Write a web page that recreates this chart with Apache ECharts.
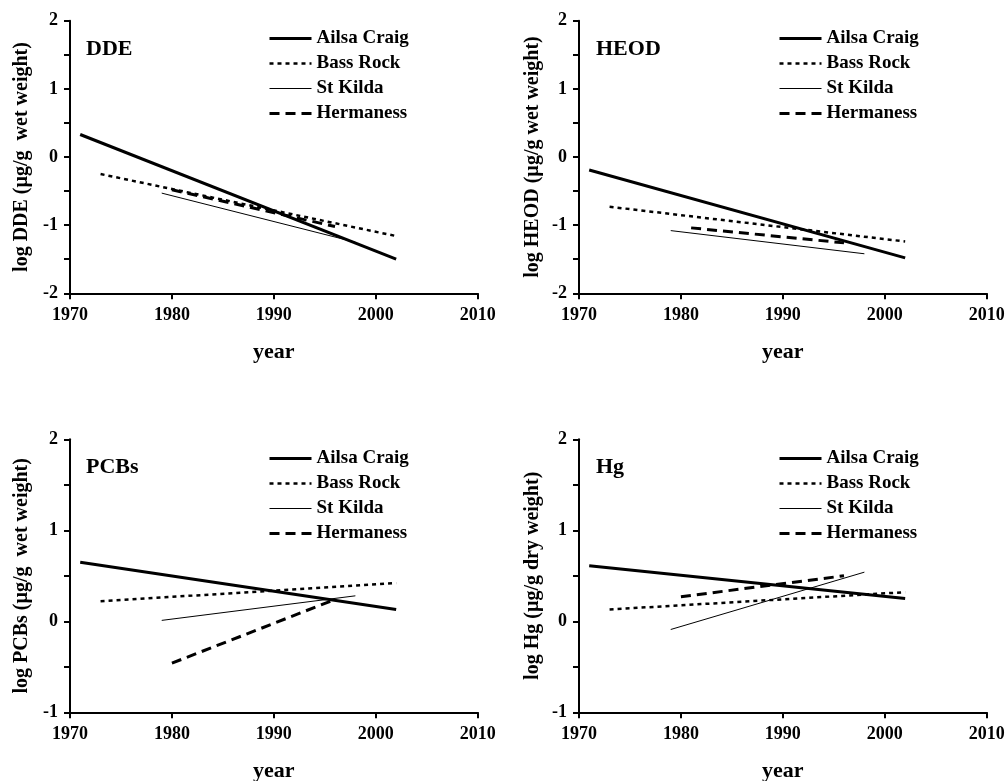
<!DOCTYPE html>
<html>
<head>
<meta charset="utf-8">
<script src="https://cdn.jsdelivr.net/npm/echarts@6/dist/echarts.min.js"></script>
<style>
html,body{margin:0;padding:0;background:#fff;}
#chart{width:1008px;height:781px;}
</style>
</head>
<body>
<div id="chart"></div>
<script>
// ---- data ----
const sites = ['Ailsa Craig', 'Bass Rock', 'St Kilda', 'Hermaness'];
const panelTitles = ['DDE', 'HEOD', 'PCBs', 'Hg'];
const yTitles = ['log DDE (µg/g  wet weight)', 'log HEOD (µg/g wet weight)', 'log PCBs (µg/g  wet weight)', 'log Hg (µg/g dry weight)'];
const xTitle = 'year';
const xTicks = [1970, 1980, 1990, 2000, 2010];
const yRangeTop = [-2, 2];
const yRangeBottom = [-1, 2];

// start / end year of each site's regression line
const siteYears = [[1971, 2002], [1973, 2002], [1979, 1998], [1980, 1996]];
const heodYears = [[1971, 2002], [1973, 2002], [1979, 1998], [1981, 1996]];

// fitted log values at start / end year, per site
const ddeValues  = [[0.33, -1.50], [-0.25, -1.16], [-0.53, -1.25], [-0.48, -1.02]];
const heodValues = [[-0.19, -1.48], [-0.73, -1.24], [-1.08, -1.42], [-1.04, -1.26]];
const pcbValues  = [[0.65, 0.13], [0.22, 0.42], [0.01, 0.28], [-0.46, 0.24]];
const hgValues   = [[0.61, 0.25], [0.13, 0.32], [-0.09, 0.54], [0.27, 0.50]];

// ---- build ----
const FONT = '"Liberation Serif", "Times New Roman", serif';
const panelValues = [ddeValues, heodValues, pcbValues, hgValues];
const panelYears = [siteYears, heodYears, siteYears, siteYears];
const lineStyles = [
  {width: 3, type: 'solid'},
  {width: 2.5, type: [4, 4]},
  {width: 1, type: 'solid'},
  {width: 3, type: [10, 6]}
];
const grids = [
  {left: 70, top: 20.7, width: 407.7, height: 272.6, outerBoundsMode: 'none'},
  {left: 579, top: 20.7, width: 407.7, height: 272.6, outerBoundsMode: 'none'},
  {left: 70, top: 439.3, width: 407.7, height: 273, outerBoundsMode: 'none'},
  {left: 579, top: 439.3, width: 407.7, height: 273, outerBoundsMode: 'none'}
];
const legendPos = [
  {left: 268, top: 29},
  {left: 778, top: 29},
  {left: 268, top: 449},
  {left: 778, top: 449}
];
const titlePos = [
  {left: 86, top: 38},
  {left: 596, top: 38},
  {left: 86, top: 456},
  {left: 596, top: 456}
];

const xAxes = [], yAxes = [], series = [], legends = [], titles = [];
for (let p = 0; p < 4; p++) {
  xAxes.push({
    type: 'value', gridIndex: p,
    min: xTicks[0], max: xTicks[xTicks.length - 1], interval: 10,
    name: xTitle, nameLocation: 'middle', nameGap: 48,
    nameTextStyle: {fontFamily: FONT, fontWeight: 'bold', fontSize: 22, color: '#000'},
    axisLine: {onZero: false, lineStyle: {color: '#000', width: 2}},
    axisTick: {show: true, length: 6, lineStyle: {color: '#000', width: 2}},
    axisLabel: {fontFamily: FONT, fontWeight: 'bold', fontSize: 18, color: '#000', margin: 13,
      formatter: v => String(v)},
    splitLine: {show: false}
  });
  const yr = p < 2 ? yRangeTop : yRangeBottom;
  yAxes.push({
    type: 'value', gridIndex: p,
    min: yr[0], max: yr[1], interval: 1,
    name: yTitles[p], nameLocation: 'middle', nameGap: p % 2 === 0 ? 38 : 36,
    nameTextStyle: {fontFamily: FONT, fontWeight: 'bold', fontSize: 20, color: '#000'},
    axisLine: {show: true, onZero: false, lineStyle: {color: '#000', width: 2}},
    axisTick: {show: true, length: 6, lineStyle: {color: '#000', width: 2}},
    minorTick: {show: true, splitNumber: 2, length: 6, lineStyle: {color: '#000', width: 2}},
    axisLabel: {fontFamily: FONT, fontWeight: 'bold', fontSize: 18, color: '#000', margin: 12,
      formatter: v => String(v)},
    splitLine: {show: false},
    minorSplitLine: {show: false}
  });
  for (let s = 0; s < sites.length; s++) {
    const yrs = panelYears[p][s];
    const vals = panelValues[p][s];
    series.push({
      type: 'line', name: sites[s],
      xAxisIndex: p, yAxisIndex: p,
      data: [[yrs[0], vals[0]], [yrs[1], vals[1]]],
      showSymbol: false, symbol: 'none',
      lineStyle: Object.assign({color: '#000'}, lineStyles[s]),
      itemStyle: {color: '#000'},
      animation: false, silent: true
    });
  }
  legends.push({
    orient: 'vertical',
    left: legendPos[p].left, top: legendPos[p].top,
    padding: 0, itemGap: 6, itemWidth: 42, itemHeight: 16,
    selectedMode: false,
    data: sites.map((n, i) => ({
      name: n,
      lineStyle: Object.assign({color: '#000'}, lineStyles[i])
    })),
    itemStyle: {color: 'rgba(0,0,0,0)', borderWidth: 0, opacity: 0},
    textStyle: {fontFamily: FONT, fontWeight: 'bold', fontSize: 19, color: '#000', lineHeight: 16}
  });
  titles.push({
    text: panelTitles[p],
    left: titlePos[p].left, top: titlePos[p].top,
    padding: 0,
    textStyle: {fontFamily: FONT, fontWeight: 'bold', fontSize: 22, color: '#000'}
  });
}

const chart = echarts.init(document.getElementById('chart'), null, {renderer: 'canvas'});
chart.setOption({
  backgroundColor: '#fff',
  animation: false,
  title: titles,
  legend: legends,
  grid: grids,
  xAxis: xAxes,
  yAxis: yAxes,
  series: series
});
</script>
</body>
</html>
